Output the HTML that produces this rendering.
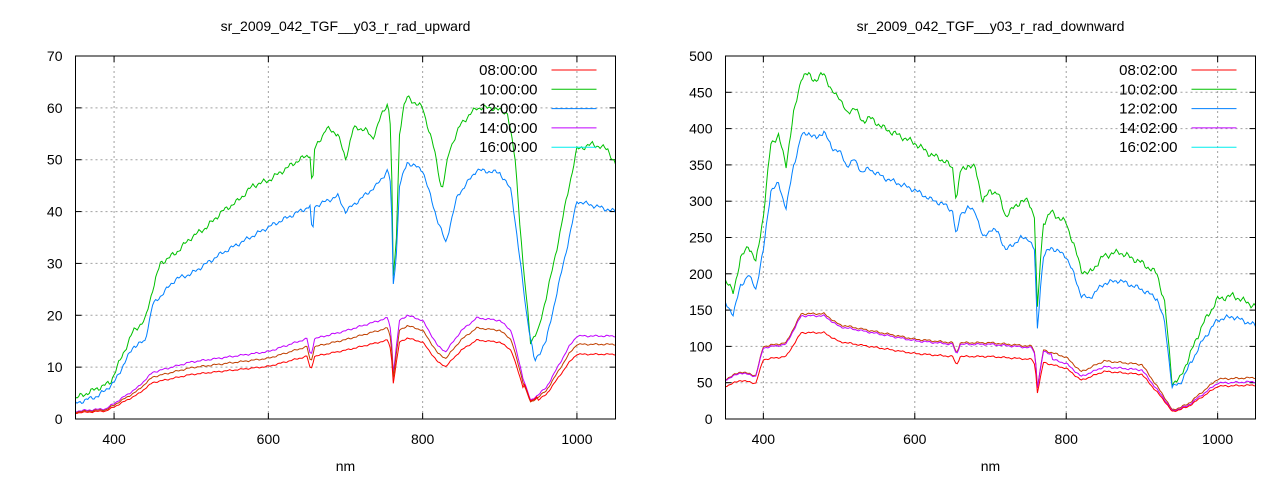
<!DOCTYPE html>
<html><head><meta charset="utf-8"><style>
body{margin:0;background:#fff;width:1280px;height:480px;overflow:hidden}
svg text{font-family:"Liberation Sans",sans-serif;font-size:14px;fill:#000}
svg text.lg{font-size:15px}
</style></head><body>
<svg id="s" width="1280" height="480" xmlns="http://www.w3.org/2000/svg"></svg>
<script>
const S=document.getElementById('s');let h='';
function interp(pts,x){for(let i=0;i<pts.length-1;i++){if(x>=pts[i][0]&&x<=pts[i+1][0]){const t=(x-pts[i][0])/(pts[i+1][0]-pts[i][0]);return pts[i][1]+t*(pts[i+1][1]-pts[i][1]);}}return pts[pts.length-1][1];}
function noise(x,s){return (Math.sin(x*0.9+s)*0.5+Math.sin(x*0.37+s*2)*0.5);}
function plot(o){
 const {x0,x1,y0,y1,ymax,ystep,title,labels,series}=o;
 const X=n=>x0+(n-350)/700*(x1-x0), Y=v=>y1-v/ymax*(y1-y0);
 h+=`<text x="${(x0+x1)/2}" y="31" text-anchor="middle">${title}</text>`;
 for(let v=0;v<=ymax;v+=ystep){const y=Y(v);
  if(v>0&&v<ymax)h+=`<line x1="${x0}" y1="${y}" x2="${x1}" y2="${y}" stroke="#a0a0a0" stroke-dasharray="2,3"/>`;
  h+=`<line x1="${x0}" y1="${y}" x2="${x0+6}" y2="${y}" stroke="#000"/><line x1="${x1}" y1="${y}" x2="${x1-6}" y2="${y}" stroke="#000"/>`;
  h+=`<text x="${x0-13}" y="${y+5}" text-anchor="end">${v}</text>`;}
 for(let n=400;n<=1000;n+=200){const x=X(n);
  h+=`<line x1="${x}" y1="${y0}" x2="${x}" y2="${y1}" stroke="#a0a0a0" stroke-dasharray="2,3"/>`;
  h+=`<line x1="${x}" y1="${y1}" x2="${x}" y2="${y1-6}" stroke="#000"/><line x1="${x}" y1="${y0}" x2="${x}" y2="${y0+6}" stroke="#000"/>`;
  h+=`<text x="${x}" y="${y1+25}" text-anchor="middle">${n}</text>`;}
 h+=`<text x="${(x0+x1)/2}" y="471" text-anchor="middle">nm</text>`;
 series.forEach((s,i)=>{let p=[];for(let n=350;n<=1050;n+=2){let v=s.f(n);v=Math.max(0,v);p.push(X(n).toFixed(1)+','+Y(v).toFixed(1));}
  h+=`<polyline points="${p.join(' ')}" fill="none" stroke="${s.c}" stroke-width="1"/>`;});
 labels.forEach((l,i)=>{const y=y0+19+i*19.3;
  h+=`<text class="lg" x="${x1-78}" y="${y}" text-anchor="end">${l[0]}</text><line x1="${x1-64}" y1="${y-5}" x2="${x1-19}" y2="${y-5}" stroke="${l[1]}"/>`;});
 h+=`<rect x="${x0}" y="${y0}" width="${x1-x0}" height="${y1-y0}" fill="none" stroke="#000"/>`;
}
const LG=[[350,4],[380,6],[395,7],[410,12],[425,17],[440,19],[450,25],[460,30],[480,32],[500,35],[520,37],[540,40],[560,42],[580,45],[600,46],[620,48],[640,50],[654,51],[657,44],[660,52],[675,56],[690,55],[700,50],[710,56],[725,56],[735,54],[745,58],[755,61],[759,56],[762,27],[766,35],[770,55],[775,60],[780,62],[800,60],[815,52],[825,44],[835,52],[850,57],[870,60],[890,60],[910,59],[920,50],[930,30],[940,15],[950,17],[970,30],[990,45],[1000,52],[1020,53],[1040,52],[1050,49]];
const LB=[[350,3],[380,4.5],[400,7],[425,14],[440,15],[450,22],[480,27],[500,28],[540,32],[600,37],[640,40],[654,41],[657,35],[660,41],[690,43],[700,40],[740,45],[755,48],[759,45],[762,26],[766,32],[770,45],[780,49.5],[800,48],[820,38],[830,34],[845,43],[870,48],[900,47.5],[915,44],[935,20],[945,11],[960,15],[990,35],[1000,42],[1050,40]];
const LM=[[350,1.5],[390,2],[410,4],[430,6],[450,9],[500,11],[600,13],[650,15.5],[655,12],[660,15.5],[700,17],[755,19.5],[759,17],[762,9],[770,19],[780,20],[800,19],[820,14],[830,13],[850,17],[870,19.5],[900,19],[915,17],[930,8],[940,3.5],[960,6],[990,14],[1000,16],[1050,16]];
plot({x0:75.5,x1:615.5,y0:56,y1:419,ymax:70,ystep:10,title:'sr_2009_042_TGF__y03_r_rad_upward',
 labels:[['08:00:00','#ff0000'],['10:00:00','#00c000'],['12:00:00','#0080ff'],['14:00:00','#c000ff'],['16:00:00','#00eeee']],
 series:[
 {c:'#00c000',f:n=>interp(LG,n)+noise(n,1)*0.6},
 {c:'#0080ff',f:n=>interp(LB,n)+noise(n,2)*0.5},
 {c:'#c000ff',f:n=>interp(LM,n)+noise(n,3)*0.2},
 {c:'#c04000',f:n=>interp(LM,n)*0.9+noise(n,3)*0.18},
 {c:'#ff0000',f:n=>interp(LM,n)*(n>930&&n<950?0.95:0.78)+noise(n,3)*0.16}]});
const RG=[[350,190],[360,175],[370,220],[380,240],[390,215],[400,280],[410,380],[420,390],[430,350],[440,420],[450,470],[460,475],[470,465],[480,478],[490,450],[500,445],[510,420],[520,430],[530,410],[540,415],[560,400],[580,390],[600,380],[620,365],[640,355],[650,345],[655,300],[660,340],[670,350],[680,345],[690,300],[700,315],[710,310],[720,280],[740,300],[750,300],[758,280],[762,150],[766,220],[770,270],[780,285],[800,270],[810,240],[820,205],[830,200],[850,225],[870,230],[900,215],[920,200],[930,160],[940,50],[950,55],[980,130],[1000,165],[1020,170],[1040,160],[1050,155]];
const RB=RG.map(p=>[p[0],p[1]*(p[0]>930&&p[0]<960?0.88:0.83)]);
const RM=[[350,55],[370,65],[390,60],[400,100],[430,105],[450,145],[480,145],[500,130],[600,110],[650,105],[655,90],[660,105],[700,105],[755,100],[759,90],[762,45],[770,95],[800,85],[820,65],[850,80],[900,75],[930,30],[940,12],[960,20],[1000,55],[1050,57]];
plot({x0:725.5,x1:1255.5,y0:56,y1:419,ymax:500,ystep:50,title:'sr_2009_042_TGF__y03_r_rad_downward',
 labels:[['08:02:00','#ff0000'],['10:02:00','#00c000'],['12:02:00','#0080ff'],['14:02:00','#c000ff'],['16:02:00','#00eeee']],
 series:[
 {c:'#00c000',f:n=>interp(RG,n)+noise(n,1)*5},
 {c:'#0080ff',f:n=>interp(RB,n)+noise(n,2)*4},
 {c:'#c04000',f:n=>interp(RM,n)+noise(n,3)*1.5},
 {c:'#c000ff',f:n=>interp(RM,n)*(n>780?0.9:0.98)+noise(n,3)*1.5},
 {c:'#ff0000',f:n=>interp(RM,n)*0.82+noise(n,3)*1.3}]});
S.innerHTML=h;
</script>
</body></html>
